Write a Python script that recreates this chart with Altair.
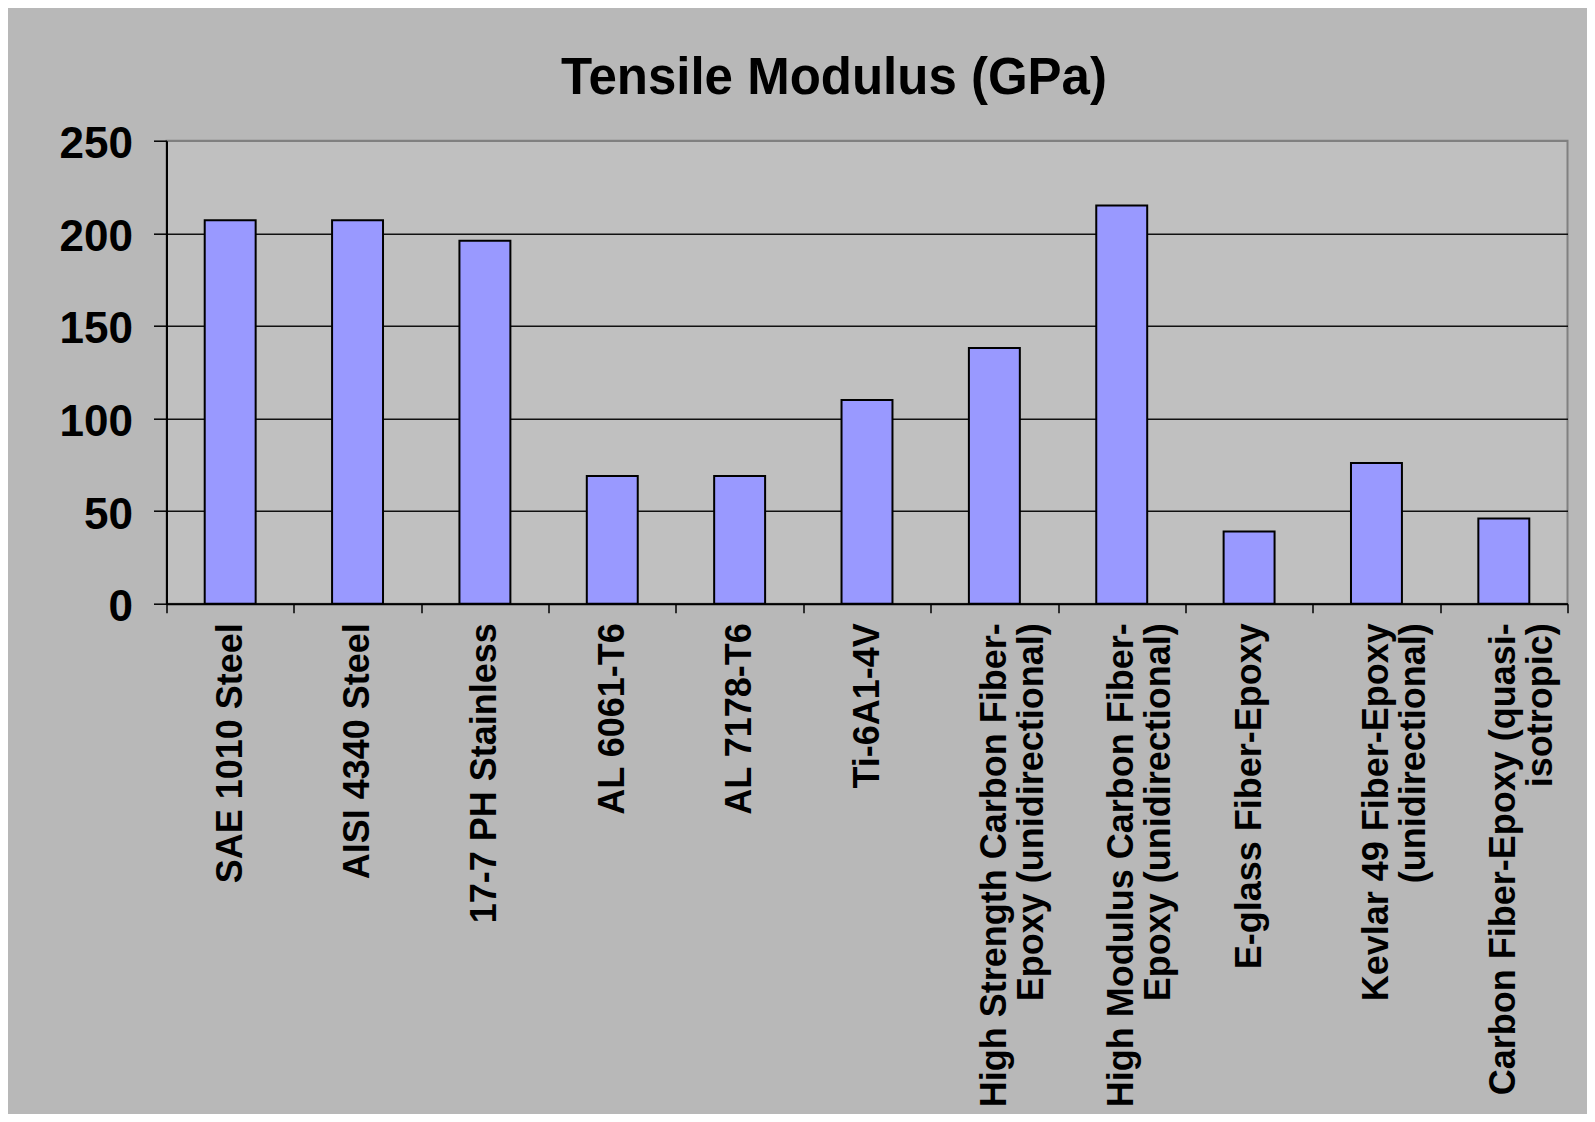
import altair as alt
import pandas as pd

# ---- data ----
materials = [
    "SAE 1010 Steel",
    "AISI 4340 Steel",
    "17-7 PH Stainless",
    "AL 6061-T6",
    "AL 7178-T6",
    "Ti-6A1-4V",
    "High Strength Carbon Fiber-|Epoxy (unidirectional)",
    "High Modulus Carbon Fiber-|Epoxy (unidirectional)",
    "E-glass Fiber-Epoxy",
    "Kevlar 49 Fiber-Epoxy|(unidirectional)",
    "Carbon Fiber-Epoxy (quasi-|isotropic)",
]
modulus_gpa = [207, 207, 196, 69, 69, 110, 138, 215, 39, 76, 46]
y_ticks = [0, 50, 100, 150, 200, 250]
title_text = "Tensile Modulus (GPa)"

df = pd.DataFrame({"material": materials, "modulus": modulus_gpa})

FONT = "Liberation Sans"

chart = (
    alt.Chart(df)
    .mark_bar(
        width=alt.RelativeBandSize(0.4),
        color="#9999FF",
        stroke="#000000",
        strokeWidth=2,
    )
    .encode(
        x=alt.X(
            "material:N",
            sort=None,
            scale=alt.Scale(paddingInner=0, paddingOuter=0),
            axis=alt.Axis(
                title=None,
                labelAngle=-90,
                labelAlign="right",
                labelBaseline="middle",
                labelExpr="split(datum.label, '|')",
                labelFont=FONT,
                labelFontSize=36,
                labelFontWeight="bold",
                labelColor="#000000",
                labelLineHeight=37,
                labelLimit=800,
                labelOverlap=False,
                labelPadding=10,
                tickBand="extent",
                tickSize=9,
                tickColor="#000000",
                tickWidth=1.5,
                domainColor="#000000",
                domainWidth=2,
                grid=False,
            ),
        ),
        y=alt.Y(
            "modulus:Q",
            scale=alt.Scale(domain=[0, 250], nice=False),
            axis=alt.Axis(
                title=None,
                values=y_ticks,
                labelFont=FONT,
                labelFontSize=44,
                labelFontWeight="bold",
                labelColor="#000000",
                labelPadding=21,
                labelBaseline="middle",
                labelOffset=4,
                tickSize=13,
                tickColor="#000000",
                tickWidth=1.5,
                domainColor="#000000",
                domainWidth=2,
                grid=True,
                gridColor={"condition": {"test": "datum.value === 250", "value": "#808080"}, "value": "#111111"},
                gridWidth=1.5,
            ),
        ),
    )
    .properties(
        width=1401,
        height=463,
        title=alt.TitleParams(
            text=title_text,
            font=FONT,
            fontSize=51,
            fontWeight="bold",
            color="#000000",
            anchor="middle",
            frame="group",
            dx=-33,
            offset=18,
        ),
        background="#B8B8B8",
        padding={"left": 158.5, "top": 132.7, "right": 19.5, "bottom": 510.3},
        autosize=alt.AutoSizeParams(type="none"),
    )
    .configure_view(fill="#C0C0C0", stroke="#808080", strokeWidth=2)
)

chart.save("out.html", embed_options={"renderer": "svg", "actions": False})
